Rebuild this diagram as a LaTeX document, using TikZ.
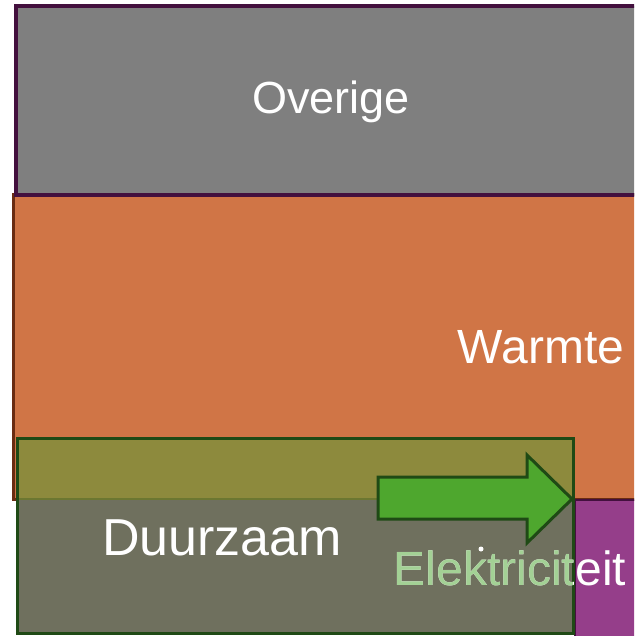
\documentclass[tikz,border=0pt]{standalone}
\usepackage{fontspec}
\setmainfont{Liberation Sans}
\definecolor{grayfill}{HTML}{7F7F7F}
\definecolor{orangefill}{HTML}{D07546}
\definecolor{purplefill}{HTML}{953E8A}
\definecolor{purpleline}{HTML}{43103E}
\definecolor{brownline}{HTML}{6A2C12}
\definecolor{olivefill}{HTML}{8D8A3D}
\definecolor{boxfill}{HTML}{6F705E}
\definecolor{darkgreen}{HTML}{1F4A15}
\definecolor{arrowgreen}{HTML}{4EA72E}
\definecolor{lightgreen}{HTML}{A3D195}
\tikzset{
  lbl/.style={text=white, font=\fontsize{48}{52}\selectfont, inner sep=0pt},
}
\begin{document}
\begin{tikzpicture}[x=1pt,y=-1pt]
\useasboundingbox (0,0) rectangle (634,636);
\fill[white] (0,0) rectangle (634,636);
\clip (0,0) rectangle (634,636);
% Warmte (orange)
\draw[fill=orangefill, draw=brownline, line width=3pt] (13,195) rectangle (645,499);
% Overige (gray)
\draw[fill=grayfill, draw=purpleline, line width=3.5pt] (16,6) rectangle (645,195);
% Elektriciteit (purple)
\draw[fill=purplefill, draw=purpleline, line width=2pt] (575,500) rectangle (645,640);
% Duurzaam box
\fill[olivefill] (16,437) rectangle (574,499);
\fill[boxfill] (16,499) rectangle (574,634);
\draw[draw=olivefill!70!darkgreen, line width=2pt] (16,499) -- (574,499);
\draw[draw=darkgreen, line width=3pt] (17.5,438.5) rectangle (573.5,633.5);
% arrow
\draw[fill=arrowgreen, draw=darkgreen, line width=3pt, line join=miter]
  (378,477) -- (527,477) -- (527,455) -- (572,499) -- (527,543) -- (527,519) -- (378,519) -- cycle;
% labels
\node[lbl, font=\fontsize{45}{50}\selectfont] (overige) at (331,102) {Overige};
\node[lbl] (warmte) at (541,347) {Warmte};
\node[lbl, font=\fontsize{52}{56}\selectfont] (duurzaam) at (222,538) {Duurzaam};
\node[lbl] (elek) at (510,568) {Elektriciteit};
\begin{scope}
\clip (19,440) rectangle (572,632);
\node[lbl, text=lightgreen] at (510,568) {Elektriciteit};
\end{scope}
\fill[white] (481,549) circle (2.5);
\end{tikzpicture}
\end{document}
